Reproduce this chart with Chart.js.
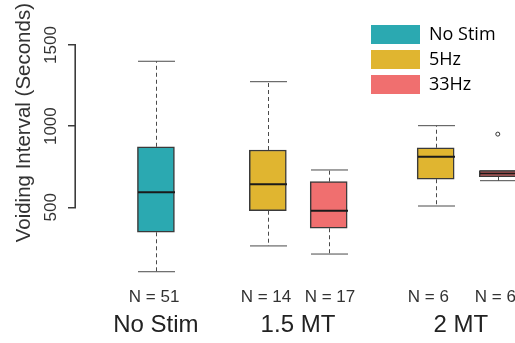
<!DOCTYPE html>
<html>
<head>
<meta charset="utf-8">
<script src="https://cdn.jsdelivr.net/npm/chart.js@4.4.1/dist/chart.umd.min.js"></script>
<style>
  html, body { margin: 0; padding: 0; background: #fff; }
</style>
</head>
<body>
<canvas id="boxChart" width="515" height="343"></canvas>
<script>
// series (legend)
const seriesNames = ['No Stim', '5Hz', '33Hz'];
const seriesColors = ['#2ba9b1', '#e0b530', '#f06f6f'];

// one entry per box
const groupNames = ['No Stim', '1.5 MT', '2 MT'];
const boxSeries = [0, 1, 2, 1, 2];
const nLabels = ['N = 51', 'N = 14', 'N = 17', 'N = 6', 'N = 6'];

const mins    = [103, 262, 212, 508, 664];
const q1s     = [346, 479, 371, 673, 688];
const medians = [592, 642, 479, 812, 709];
const q3s     = [873, 853, 658, 867, 726];
const maxs    = [1400, 1274, 730, 1003, 726];

const outlierBox = [4];
const outlierValues = [951];

const yTicks = [500, 1000, 1500];

// layout (x units)
const boxPositions = [0, 1.82, 2.81, 4.55, 5.56];
const nLabelPositions = [-0.03, 1.79, 2.83, 4.43, 5.52];
const groupPositions = [0, 2.31, 4.96];
const xMin = -1.3, xMax = 5.84;

const axisColor = '#3c3c3c';

Chart.defaults.font.family = "'Liberation Sans', Arial, sans-serif";
Chart.defaults.color = '#333';

// whiskers, caps and medians, drawn on the library's scales
const whiskerPlugin = {
  id: 'whiskers',
  afterDatasetsDraw(chart) {
    const ctx = chart.ctx;
    const x = chart.scales.x, y = chart.scales.y;
    const bars = chart.getDatasetMeta(0).data;
    ctx.save();
    boxPositions.forEach((pos, i) => {
      const cx = Math.round(x.getPixelForValue(pos)) + 0.5;
      const half = bars[i].width / 2;
      const yMin = y.getPixelForValue(mins[i]);
      const yQ1 = y.getPixelForValue(q1s[i]);
      const yMed = y.getPixelForValue(medians[i]);
      const yQ3 = y.getPixelForValue(q3s[i]);
      const yMax = y.getPixelForValue(maxs[i]);

      ctx.strokeStyle = '#4a4a4a';
      ctx.lineWidth = 1;
      ctx.setLineDash([4, 3]);
      ctx.beginPath();
      ctx.moveTo(cx, yQ3); ctx.lineTo(cx, yMax);
      ctx.moveTo(cx, yQ1); ctx.lineTo(cx, yMin);
      ctx.stroke();
      ctx.setLineDash([]);

      ctx.beginPath();
      ctx.moveTo(cx - half, yMax); ctx.lineTo(cx + half, yMax);
      ctx.moveTo(cx - half, yMin); ctx.lineTo(cx + half, yMin);
      ctx.stroke();

      ctx.strokeStyle = '#1a1a1a';
      ctx.lineWidth = 2;
      ctx.beginPath();
      ctx.moveTo(cx - half, yMed); ctx.lineTo(cx + half, yMed);
      ctx.stroke();
    });
    ctx.restore();
  }
};

// y axis line only between first and last tick (R style)
const axisLinePlugin = {
  id: 'axisLine',
  afterDraw(chart) {
    const ctx = chart.ctx;
    const s = chart.scales.y;
    const top = s.getPixelForValue(yTicks[yTicks.length - 1]);
    const bottom = s.getPixelForValue(yTicks[0]);
    ctx.save();
    ctx.strokeStyle = axisColor;
    ctx.lineWidth = 1.6;
    ctx.beginPath();
    ctx.moveTo(s.right - 0.8, top - 0.8);
    ctx.lineTo(s.right - 0.8, bottom + 0.8);
    ctx.stroke();
    ctx.restore();
  }
};

// move the legend to the upper right
const legendPlacer = {
  id: 'legendPlacer',
  beforeDraw(chart) {
    const lg = chart.legend;
    if (!lg) return;
    lg.left = 365;
    lg.top = 19;
    lg.right = lg.left + lg.width;
    lg.bottom = lg.top + lg.height;
  }
};

new Chart(document.getElementById('boxChart').getContext('2d'), {
  type: 'bar',
  data: {
    datasets: [
      {
        type: 'bar',
        data: boxPositions.map((p, i) => ({ x: p, y: [q1s[i], q3s[i]] })),
        backgroundColor: boxSeries.map(s => seriesColors[s]),
        borderColor: '#3a3a3a',
        borderWidth: 1.5,
        borderSkipped: false,
        barThickness: 37
      },
      {
        type: 'scatter',
        data: outlierBox.map((b, i) => ({ x: boxPositions[b], y: outlierValues[i] })),
        pointRadius: 2,
        pointBorderWidth: 1,
        pointBorderColor: '#333',
        pointBackgroundColor: '#fff',
        showLine: false
      }
    ]
  },
  options: {
    responsive: false,
    animation: false,
    events: [],
    layout: { autoPadding: false, padding: { top: 3, left: 0, right: 0, bottom: 0 } },
    scales: {
      x: {
        type: 'linear',
        position: 'bottom',
        weight: 1,
        min: xMin, max: xMax,
        offset: false,
        afterBuildTicks: s => { s.ticks = nLabelPositions.map(v => ({ value: v })); },
        afterFit: s => { s.height = 30; s.paddingLeft = 0; s.paddingRight = 0; },
        grid: { display: false, drawTicks: false },
        border: { display: false },
        ticks: {
          autoSkip: false, minRotation: 0, maxRotation: 0, padding: 7,
          font: { size: 17 }, color: '#333',
          callback: (v, i) => nLabels[i]
        }
      },
      x2: {
        type: 'linear',
        position: 'bottom',
        weight: 2,
        min: xMin, max: xMax,
        offset: false,
        afterBuildTicks: s => { s.ticks = groupPositions.map(v => ({ value: v })); },
        afterFit: s => { s.height = 33; s.paddingLeft = 0; s.paddingRight = 0; },
        grid: { display: false, drawTicks: false },
        border: { display: false },
        ticks: {
          autoSkip: false, minRotation: 0, maxRotation: 0, padding: 1,
          font: { size: 24 }, color: '#222',
          callback: (v, i) => groupNames[i]
        }
      },
      y: {
        min: 52, max: 1759,
        afterBuildTicks: s => { s.ticks = yTicks.map(v => ({ value: v })); },
        afterFit: s => { s.width = 76; s.paddingTop = 0; s.paddingBottom = 0; },
        grid: { drawOnChartArea: false, drawTicks: true, tickLength: 8, color: axisColor, lineWidth: 1.5 },
        border: { display: false },
        ticks: {
          minRotation: 90, maxRotation: 90, crossAlign: 'center', padding: -2,
          font: { size: 17 }, color: '#333',
          callback: v => String(v)
        },
        title: {
          display: true,
          text: 'Voiding Interval (Seconds)',
          align: 'end',
          font: { size: 20.5 },
          color: '#333',
          padding: { top: 12, bottom: 0 }
        }
      }
    },
    plugins: {
      tooltip: { enabled: false },
      legend: {
        position: 'chartArea',
        align: 'start',
        labels: {
          boxWidth: 49,
          boxHeight: 19,
          padding: 6,
          color: '#231f20',
          font: { family: "'Open Sans', sans-serif", size: 18 },
          generateLabels: () => seriesNames.map((name, i) => ({
            text: name,
            fillStyle: seriesColors[i],
            strokeStyle: seriesColors[i],
            lineWidth: 0,
            hidden: false,
            index: i
          }))
        }
      }
    }
  },
  plugins: [whiskerPlugin, axisLinePlugin, legendPlacer]
});
</script>
</body>
</html>
